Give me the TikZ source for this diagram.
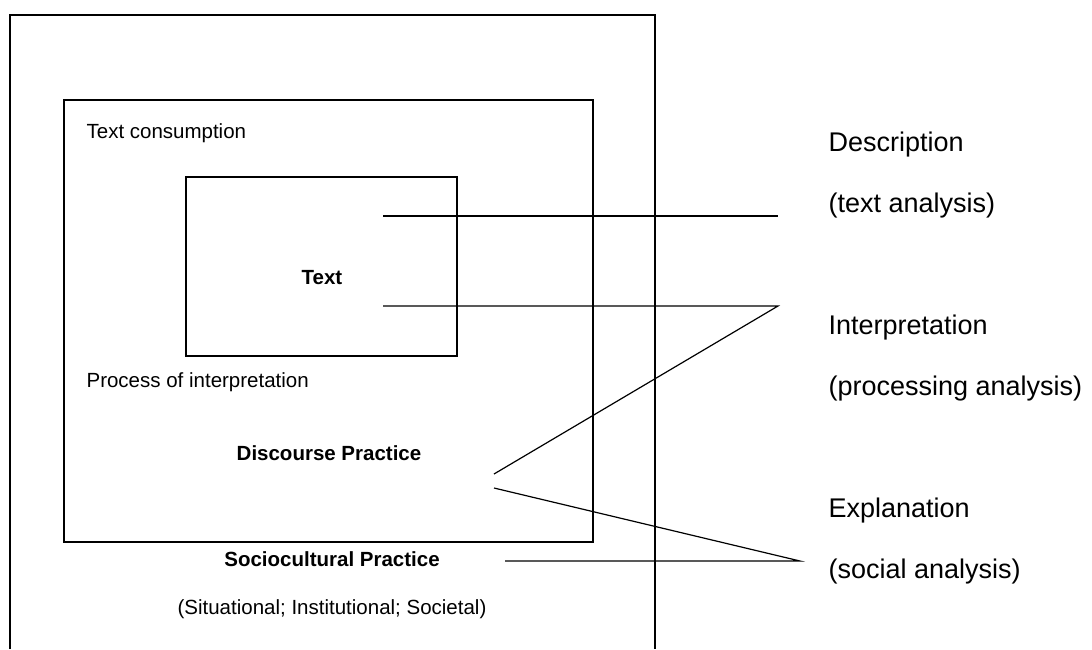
\documentclass[tikz,border=0pt]{standalone}
\usepackage{fontspec}
\setmainfont{Liberation Sans}
\usepackage{tikz}

\begin{document}
\begin{tikzpicture}[x=1pt, y=-1pt, every node/.style={inner sep=0pt, font=\fontsize{20.5}{24}\selectfont}, every path/.style={draw=black, line width=1.2pt}, level/.style={anchor=west, font=\fontsize{27}{31}\selectfont}]
			\useasboundingbox[draw=none] (0,0) rectangle (1092,649);
			
			% boxes
			\draw (10,649) -- (10,15) -- (655,15) -- (655,649);
			\draw (64,100) rectangle (593,542);
			\draw (186,177) rectangle (457,356);
			
			\node[anchor=west] (cons) at (86,133){Text consumption};
			\node[font=\fontsize{20.5}{24}\selectfont\bfseries] (text) at (322,278){Text};
			\node[anchor=west] (proc) at (86,382){Process of interpretation};
			\node[font=\fontsize{20.5}{24}\selectfont\bfseries] (disc) at (329,453){Discourse Practice};
			\node[font=\fontsize{20.5}{24}\selectfont\bfseries] (socio) at (332,559){Sociocultural Practice};
			\node (sit) at (332,609){(Situational; Institutional; Societal)};
			
			\node[level] (desc) at (828,145){Description};
			\node[level] (desca) at (828,206){(text analysis)};
			\node[level] (interp) at (828,328){Interpretation};
			\node[level] (interpa) at (828,389){(processing analysis)};
			\node[level] (expl) at (828,511){Explanation};
			\node[level] (expla) at (828,572){(social analysis)};
			
			\coordinate (a1) at (383,216);
			\coordinate (a2) at (778,216);
			\coordinate (b1) at (383,306);
			\coordinate (b2) at (778,306);
			\coordinate (b3) at (494,474);
			\coordinate (c1) at (494,488);
			\coordinate (c2) at (800,561);
			\coordinate (c3) at (505,561);
			
			\path (a1) edge (a2);
			\draw (b1) -- (b2) -- (b3);
			\draw (c1) -- (c2) -- (c3);
			\end{tikzpicture}
\end{document}
